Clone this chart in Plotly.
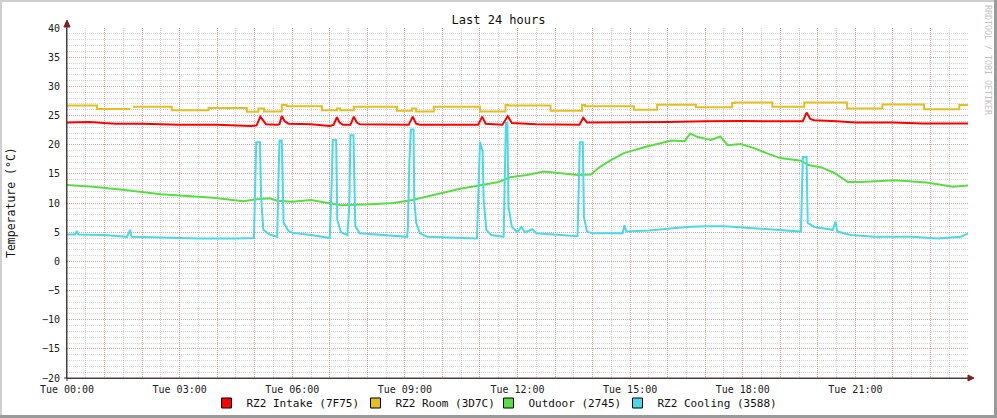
import plotly.graph_objects as go

# ---------------- data (hours since Tue 00:00) ----------------
intake_x = [0, 0.6, 1.0, 1.3, 2.0, 3.0, 4.0, 4.9, 5.05, 5.15, 5.22, 5.3, 5.6, 5.66, 5.72, 5.8, 5.9,
            6.5, 7.0, 7.1, 7.19, 7.26, 7.35, 7.55, 7.64, 7.72, 7.8, 9.1, 9.21, 9.3, 9.4, 10.95,
            11.06, 11.15, 11.6, 11.74, 11.85, 12.5, 13.65, 13.75, 13.85, 14.5, 16.0, 17.0, 18.0,
            19.6, 19.7, 19.8, 19.9, 20.5, 21.0, 22.0, 22.8, 24.0]
intake_y = [23.8, 23.9, 23.7, 23.6, 23.6, 23.4, 23.4, 23.2, 23.3, 24.8, 24.2, 23.5, 23.4, 23.5, 24.9,
            24.0, 23.6, 23.5, 23.2, 23.4, 24.7, 23.8, 23.4, 23.4, 24.8, 23.8, 23.5, 23.4, 24.8,
            23.6, 23.4, 23.4, 24.8, 23.6, 23.4, 24.9, 23.7, 23.5, 23.4, 24.6, 23.8, 23.8, 23.9,
            24.0, 24.05, 24.0, 25.5, 24.4, 24.2, 24.0, 23.8, 23.8, 23.65, 23.65]

room_x = [0, 0.8, 1.69, 1.70, 1.76, 2.79, 3.77, 4.79, 5.1, 5.25, 5.72, 5.85, 6.79, 7.19, 7.28, 7.64,
          8.79, 9.19, 9.3, 9.77, 11.0, 11.68, 11.75, 12.88, 13.72, 13.8, 15.1, 15.72, 16.75,
          17.72, 17.8, 18.79, 19.64, 20.78, 21.72, 22.83, 23.77, 24.0]
room_y = [26.7, 26.1, 26.1, None, 26.5, 25.9, 26.3, 25.65, 26.2, 25.7, 26.8, 26.6, 25.9, 26.2, 25.9, 26.5,
          25.8, 26.2, 25.7, 26.5, 25.7, 26.8, 26.7, 25.8, 26.8, 26.6, 26.0, 26.85, 26.4,
          27.15, 27.25, 26.5, 27.25, 26.2, 26.9, 26.05, 26.8, 26.8]

outdoor_x = [0, 0.7, 1.6, 2.5, 3.4, 3.9, 4.7, 5.0, 5.4, 5.6, 6.0, 6.5, 6.95, 7.2, 7.3, 8.1, 8.7,
             9.2, 9.6, 10.0, 10.5, 10.9, 11.2, 11.5, 11.8, 12.25, 12.7, 13.1, 13.6, 13.95, 14.2,
             14.5, 14.85, 15.4, 15.8, 16.1, 16.45, 16.6, 16.8, 17.15, 17.4, 17.6, 17.95, 18.3,
             18.65, 19.0, 19.55, 19.75, 20.1, 20.45, 20.8, 21.15, 22.05, 22.9, 23.6, 24.0]
outdoor_y = [13.1, 12.8, 12.2, 11.5, 11.1, 10.9, 10.3, 10.6, 10.8, 10.4, 10.2, 10.5, 10.0, 9.8, 9.6,
             9.8, 10.0, 10.5, 11.1, 11.7, 12.5, 12.9, 13.2, 13.6, 14.4, 14.8, 15.4, 15.1, 14.8,
             14.9, 16.2, 17.4, 18.6, 19.6, 20.2, 20.7, 20.6, 21.9, 21.3, 20.8, 21.4, 19.9, 20.1,
             19.4, 18.5, 17.7, 17.25, 16.5, 16.1, 15.1, 13.6, 13.6, 13.9, 13.5, 12.8, 13.0]

cooling_x = [0, 0.22, 0.26, 0.3, 1.0, 1.6, 1.68, 1.72, 2.5, 3.5, 4.5, 4.98, 5.04, 5.14, 5.17, 5.23,
             5.4, 5.6, 5.63, 5.66, 5.72, 5.77, 5.9, 6.0, 6.5, 7.0, 7.05, 7.08, 7.17, 7.2, 7.3,
             7.47, 7.52, 7.55, 7.63, 7.68, 7.8, 8.5, 9.06, 9.08, 9.12, 9.16, 9.23, 9.25, 9.3,
             9.4, 9.6, 10.92, 10.96, 11.0, 11.07, 11.1, 11.17, 11.3, 11.63, 11.66, 11.69, 11.73,
             11.76, 11.85, 12.0, 12.1, 12.2, 12.4, 12.5, 13.6, 13.66, 13.74, 13.77, 13.85, 14.0,
             14.8, 14.85, 14.9, 15.5, 16.0, 16.5, 17.0, 17.5, 18.0, 18.9, 19.55, 19.6, 19.7,
             19.73, 19.9, 20.4, 20.47, 20.52, 20.88, 21.5, 22.5, 23.2, 23.8, 24.0]
cooling_y = [4.6, 4.6, 5.2, 4.6, 4.5, 4.2, 5.4, 4.2, 4.1, 3.9, 3.9, 4.0, 20.4, 20.4, 11.0, 5.4,
             4.6, 4.2, 13.4, 20.7, 20.7, 6.6, 5.2, 4.9, 4.5, 4.0, 13.4, 20.8, 20.8, 7.1, 5.0,
             4.5, 9.6, 21.6, 21.6, 6.0, 4.8, 4.5, 4.2, 5.9, 17.1, 22.6, 22.6, 10.5, 6.6,
             4.8, 4.2, 3.9, 11.7, 20.5, 18.8, 10.5, 5.4, 4.5, 4.2, 13.9, 23.7, 23.7,
             9.4, 5.9, 5.0, 5.9, 5.0, 5.5, 4.8, 4.3, 20.4, 20.4, 7.6, 5.1, 4.8,
             4.8, 6.2, 5.1, 5.3, 5.6, 5.9, 6.0, 6.0, 5.8, 5.4, 5.1, 17.9, 17.9,
             6.6, 5.9, 5.4, 6.8, 5.1, 4.5, 4.2, 4.2, 3.9, 4.2, 4.8]

series_names = ["RZ2 Intake (7F75)", "RZ2 Room (3D7C)", "Outdoor (2745)", "RZ2 Cooling (3588)"]
series_colors = ["#FF0000", "#E6BE1E", "#55E040", "#4BD8E8"]

x_tick_hours = list(range(0, 24))
x_tick_labels = [("Tue %02d:00" % h) if h % 3 == 0 else "" for h in x_tick_hours]
y_ticks = list(range(-20, 45, 5))

title_text = "Last 24 hours"
y_title = "Temperature (°C)"
watermark = "RRDTOOL / TOBI OETIKER"

# ---------------- figure ----------------
W, H = 997, 418
L, R, T, B = 67, 29, 28, 40
PW, PH = W - L - R, H - T - B
FONT = "DejaVu Sans Mono"


def px(x):
    return (x - L) / PW


def py(y):
    return (H - B - y) / PH


fig = go.Figure()
data = [(intake_x, intake_y, "linear"), (room_x, room_y, "hv"),
        (outdoor_x, outdoor_y, "linear"), (cooling_x, cooling_y, "linear")]
for (xs, ys, shape), name, col in zip(data, series_names, series_colors):
    fig.add_trace(go.Scatter(x=xs, y=ys, mode="lines", name=name, showlegend=False,
                             line=dict(color=col, width=2, shape=shape),
                             connectgaps=False, hoverinfo="skip"))
legend_widths = [104, 88, 84, 119]
for name, col, lw in zip(series_names, series_colors, legend_widths):
    fig.add_trace(go.Scatter(x=[None], y=[None], mode="markers", name=name, legendwidth=lw,
                             marker=dict(symbol="square", size=10, color=col,
                                         line=dict(color="black", width=1))))

major_grid = "rgba(240,60,60,0.32)"
minor_grid = "rgba(0,0,0,0.17)"

fig.update_xaxes(range=[0, 24], tickmode="array", tickvals=x_tick_hours, ticktext=x_tick_labels,
                 showgrid=True, gridcolor=major_grid, griddash="1px,1px", gridwidth=1,
                 minor=dict(tickmode="linear", tick0=0, dtick=0.5,
                            showgrid=True, gridcolor=minor_grid, griddash="1px,1px", ticks=""),
                 showline=True, linecolor="#4a3c3c", linewidth=1, ticks="",
                 zeroline=False, tickfont=dict(family=FONT, size=10, color="#222"),
                 ticklabelstandoff=2, automargin=False, fixedrange=True)
fig.update_yaxes(range=[-20, 40], tickmode="array", tickvals=y_ticks,
                 showgrid=True, gridcolor=major_grid, griddash="1px,1px", gridwidth=1,
                 minor=dict(tickmode="linear", tick0=0, dtick=1,
                            showgrid=True, gridcolor=minor_grid, griddash="1px,1px", ticks=""),
                 showline=True, linecolor="#4a3c3c", linewidth=1, ticks="",
                 zeroline=False, tickfont=dict(family=FONT, size=10, color="#222"),
                 ticklabelstandoff=4, automargin=False, fixedrange=True)

shapes = []
# outer frame
shapes.append(dict(type="rect", xref="paper", yref="paper", x0=px(0), x1=px(2), y0=py(H), y1=py(0),
                   fillcolor="#cfcfcf", line=dict(width=0), layer="above"))
shapes.append(dict(type="rect", xref="paper", yref="paper", x0=px(0), x1=px(W), y0=py(2), y1=py(0),
                   fillcolor="#cfcfcf", line=dict(width=0), layer="above"))
shapes.append(dict(type="rect", xref="paper", yref="paper", x0=px(W - 3), x1=px(W), y0=py(H), y1=py(0),
                   fillcolor="#9a9a9a", line=dict(width=0), layer="above"))
shapes.append(dict(type="rect", xref="paper", yref="paper", x0=px(0), x1=px(W), y0=py(H), y1=py(H - 3),
                   fillcolor="#9a9a9a", line=dict(width=0), layer="above"))
# axis arrows
arrow_col = "#7f1f1f"
shapes.append(dict(type="path", xref="paper", yref="paper", layer="above",
                   path="M %f %f L %f %f L %f %f Z" % (px(64), py(27), px(70), py(27), px(67), py(20)),
                   fillcolor=arrow_col, line=dict(color=arrow_col, width=1)))
shapes.append(dict(type="path", xref="paper", yref="paper", layer="above",
                   path="M %f %f L %f %f L %f %f Z" % (px(968), py(375), px(968), py(381), px(974), py(378)),
                   fillcolor=arrow_col, line=dict(color=arrow_col, width=1)))
shapes.append(dict(type="line", xref="paper", yref="paper", layer="above",
                   x0=px(67), x1=px(67), y0=py(381), y1=py(27), line=dict(color="#4a3c3c", width=1)))
shapes.append(dict(type="line", xref="paper", yref="paper", layer="above",
                   x0=px(64), x1=px(968), y0=py(378), y1=py(378), line=dict(color="#4a3c3c", width=1)))

annotations = [
    dict(text=y_title, xref="paper", yref="paper", x=px(11), y=py(203), showarrow=False,
         textangle=-90, xanchor="center", yanchor="middle",
         font=dict(family=FONT, size=11.5, color="#111")),
    dict(text=watermark, xref="paper", yref="paper", x=px(988), y=py(60), showarrow=False,
         textangle=90, xanchor="center", yanchor="middle",
         font=dict(family=FONT, size=8.3, color="#c4c4c4")),
]

fig.update_layout(
    width=W, height=H, margin=dict(l=L, r=R, t=T, b=B, autoexpand=False),
    paper_bgcolor="white", plot_bgcolor="white",
    title=dict(text=title_text, x=0.5, xref="container", y=1 - 20 / H, yref="container",
               xanchor="center", yanchor="middle", font=dict(family=FONT, size=12, color="#111")),
    showlegend=True,
    legend=dict(orientation="h", x=px(494), xanchor="center", y=py(403), yanchor="middle",
                font=dict(family=FONT, size=11, color="#111"), itemwidth=30,
                bgcolor="rgba(0,0,0,0)", tracegroupgap=0, itemclick=False),
    shapes=shapes, annotations=annotations,
)

fig.write_html("out.html", config={"displayModeBar": False},
               post_script="document.body.style.margin='0px';")
